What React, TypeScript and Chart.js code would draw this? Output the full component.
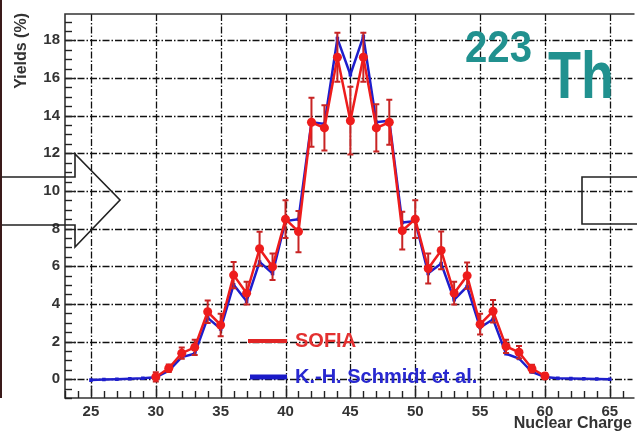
import React, { useEffect, useRef } from 'react';
import { Chart, registerables } from 'chart.js';

Chart.register(...registerables);

// ---- data ----
const sofiaZ = [30, 31, 32, 33, 34, 35, 36, 37, 38, 39, 40, 41, 42, 43, 44, 45, 46, 47, 48, 49, 50, 51, 52, 53, 54, 55, 56, 57, 58, 59, 60];
const sofiaYield = [0.12, 0.58, 1.38, 1.69, 3.58, 2.88, 5.53, 4.57, 6.93, 5.97, 8.5, 7.84, 13.65, 13.35, 17.1, 13.73, 17.1, 13.35, 13.65, 7.89, 8.5, 5.88, 6.84, 4.57, 5.5, 2.92, 3.61, 1.74, 1.43, 0.56, 0.17];
const sofiaErr = [0.25, 0.2, 0.3, 0.4, 0.6, 0.6, 0.7, 0.6, 0.9, 0.7, 1.0, 1.1, 1.3, 1.2, 1.3, 1.8, 1.3, 1.25, 1.2, 1.0, 1.0, 0.8, 1.0, 0.6, 0.7, 0.55, 0.6, 0.35, 0.33, 0.2, 0.15];

const schmidtZ = [25, 26, 27, 28, 29, 30, 31, 32, 33, 34, 35, 36, 37, 38, 39, 40, 41, 42, 43, 44, 45, 46, 47, 48, 49, 50, 51, 52, 53, 54, 55, 56, 57, 58, 59, 60, 61, 62, 63, 64, 65];
const schmidtYield = [-0.05, -0.02, 0.0, 0.02, 0.05, 0.1, 0.45, 1.17, 1.35, 3.26, 2.67, 5.02, 4.14, 6.23, 5.62, 8.4, 8.5, 13.65, 13.56, 18.1, 16.18, 18.2, 13.65, 13.73, 8.32, 8.4, 5.62, 6.14, 4.22, 4.92, 2.74, 3.18, 1.35, 1.1, 0.38, 0.12, 0.05, 0.03, 0.02, 0.01, 0.0];

const xTickValues = [25, 30, 35, 40, 45, 50, 55, 60, 65];
const yTickValues = [0, 2, 4, 6, 8, 10, 12, 14, 16, 18];

const seriesLabels = ['SOFIA', 'K.-H. Schmidt et al.'];
const xTitle = 'Nuclear Charge';
const yTitle = 'Yields (%)';

// ---- styles ----
const RED = '#ee1c1c';
const RED_ERR = '#c82424';
const BLUE = '#1e1ecc';
const TEAL = '#21918f';
const FONT = '"Liberation Sans", Arial, sans-serif';

const decorPlugin = {
  id: 'decor',
  beforeDraw(chart: any) {
    const ctx = chart.ctx;
    ctx.save();
    ctx.fillStyle = '#ffffff';
    ctx.fillRect(0, 0, chart.width, chart.height);
    ctx.restore();
  },
  beforeDatasetsDraw(chart: any) {
    const ctx = chart.ctx;
    const { left, right, top, bottom } = chart.chartArea;
    const xs = chart.scales.x;
    const ys = chart.scales.y;
    ctx.save();
    // dash-dot grid at major ticks
    ctx.strokeStyle = '#111';
    ctx.lineWidth = 1.3;
    ctx.setLineDash([7, 2, 1.5, 2]);
    xTickValues.forEach((v) => {
      const px = Math.round(xs.getPixelForValue(v)) + 0.5;
      ctx.beginPath();
      ctx.moveTo(px, top);
      ctx.lineTo(px, bottom);
      ctx.stroke();
    });
    yTickValues.forEach((v) => {
      const py = Math.round(ys.getPixelForValue(v)) + 0.5;
      ctx.beginPath();
      ctx.moveTo(left, py);
      ctx.lineTo(right, py);
      ctx.stroke();
    });
    ctx.setLineDash([]);
    // frame
    ctx.strokeStyle = '#333';
    ctx.lineWidth = 1.6;
    ctx.beginPath();
    ctx.moveTo(right + 2, top);
    ctx.lineTo(left, top);
    ctx.lineTo(left, bottom);
    ctx.lineTo(right + 2, bottom);
    ctx.stroke();
    // inward tick marks
    ctx.lineWidth = 1.4;
    ctx.strokeStyle = '#222';
    for (let v = Math.ceil(xs.min); v <= xs.max; v += 1) {
      const px = Math.round(xs.getPixelForValue(v)) + 0.5;
      const len = v % 5 === 0 ? 12 : 7;
      ctx.beginPath();
      ctx.moveTo(px, bottom);
      ctx.lineTo(px, bottom - len);
      ctx.stroke();
    }
    for (let v = Math.ceil(ys.min * 2) / 2; v <= ys.max; v += 0.5) {
      const py = Math.round(ys.getPixelForValue(v)) + 0.5;
      const len = Math.abs(v % 2) < 1e-6 ? 11 : 7;
      ctx.beginPath();
      ctx.moveTo(left, py);
      ctx.lineTo(left + len, py);
      ctx.stroke();
    }
    ctx.restore();
  },
  beforeDatasetDraw(chart: any, args: any) {
    if (args.index !== 0) return;
    const ctx = chart.ctx;
    const xs = chart.scales.x;
    const ys = chart.scales.y;
    ctx.save();
    ctx.strokeStyle = RED_ERR;
    ctx.lineWidth = 2;
    sofiaZ.forEach((z, i) => {
      const px = xs.getPixelForValue(z);
      const y1 = ys.getPixelForValue(sofiaYield[i] + sofiaErr[i]);
      const y2 = ys.getPixelForValue(sofiaYield[i] - sofiaErr[i]);
      ctx.beginPath();
      ctx.moveTo(px, y1);
      ctx.lineTo(px, y2);
      ctx.moveTo(px - 3, y1);
      ctx.lineTo(px + 3, y1);
      ctx.moveTo(px - 3, y2);
      ctx.lineTo(px + 3, y2);
      ctx.stroke();
    });
    ctx.restore();
  },
  afterDraw(chart: any) {
    const ctx = chart.ctx;
    ctx.save();
    // legend
    ctx.lineCap = 'butt';
    ctx.strokeStyle = '#e02424';
    ctx.lineWidth = 4;
    ctx.beginPath();
    ctx.moveTo(248, 341);
    ctx.lineTo(287, 341);
    ctx.stroke();
    ctx.strokeStyle = '#1a1ac8';
    ctx.lineWidth = 5;
    ctx.beginPath();
    ctx.moveTo(250, 377);
    ctx.lineTo(287, 377);
    ctx.stroke();
    ctx.font = `bold 20px ${FONT}`;
    ctx.textAlign = 'left';
    ctx.textBaseline = 'middle';
    ctx.fillStyle = '#e33030';
    ctx.fillText(seriesLabels[0], 295, 341);
    ctx.fillStyle = '#2828d0';
    ctx.fillText(seriesLabels[1], 295, 377);

    // axis titles
    ctx.fillStyle = '#333';
    ctx.font = `bold 16px ${FONT}`;
    ctx.textAlign = 'right';
    ctx.textBaseline = 'alphabetic';
    ctx.fillText(xTitle, 632, 428);
    ctx.save();
    ctx.translate(26, 13);
    ctx.rotate(-Math.PI / 2);
    ctx.textAlign = 'right';
    ctx.textBaseline = 'alphabetic';
    ctx.fillText(yTitle, 0, 0);
    ctx.restore();

    // slide decorations: arrow outline, box, isotope label, edge bar
    ctx.strokeStyle = '#222';
    ctx.lineWidth = 1.6;
    ctx.beginPath();
    ctx.moveTo(0, 177);
    ctx.lineTo(75, 177);
    ctx.lineTo(75, 154);
    ctx.lineTo(120, 200);
    ctx.lineTo(75, 247);
    ctx.lineTo(75, 225);
    ctx.lineTo(0, 225);
    ctx.stroke();
    ctx.beginPath();
    ctx.moveTo(640, 177);
    ctx.lineTo(582, 177);
    ctx.lineTo(582, 224);
    ctx.lineTo(640, 224);
    ctx.stroke();
    ctx.fillStyle = '#3a1a1a';
    ctx.fillRect(0, 0, 2, 398);

    ctx.fillStyle = TEAL;
    ctx.textAlign = 'left';
    ctx.textBaseline = 'alphabetic';
    ctx.font = `bold 44px ${FONT}`;
    let w = ctx.measureText('223').width;
    ctx.save();
    ctx.translate(465, 62);
    ctx.scale(67 / w, 1);
    ctx.fillText('223', 0, 0);
    ctx.restore();
    ctx.font = `bold 66px ${FONT}`;
    w = ctx.measureText('Th').width;
    ctx.save();
    ctx.translate(548, 98);
    ctx.scale(66 / w, 1);
    ctx.fillText('Th', 0, 0);
    ctx.restore();

    ctx.restore();
  },
};

export default function App() {
  const canvasRef = useRef<HTMLCanvasElement | null>(null);

  useEffect(() => {
    document.body.style.margin = '0';
    const canvas = canvasRef.current;
    if (!canvas) return;
    const chart = new Chart(canvas, {
      type: 'line',
      data: {
        datasets: [
          {
            label: seriesLabels[0],
            data: sofiaZ.map((z, i) => ({ x: z, y: sofiaYield[i] })),
            borderColor: RED,
            backgroundColor: RED,
            borderWidth: 2.5,
            pointStyle: 'circle',
            pointRadius: 4.5,
            pointBorderWidth: 0,
            tension: 0,
          },
          {
            label: seriesLabels[1],
            data: schmidtZ.map((z, i) => ({ x: z, y: schmidtYield[i] })),
            borderColor: BLUE,
            backgroundColor: BLUE,
            borderWidth: 2.5,
            pointStyle: 'rect',
            pointRadius: 2.5,
            pointBorderWidth: 0,
            tension: 0,
          },
        ],
      },
      options: {
        responsive: false,
        animation: false,
        devicePixelRatio: 1,
        layout: { padding: { top: 9, left: 0, right: 0, bottom: 0 } },
        plugins: {
          legend: { display: false },
          tooltip: { enabled: false },
        },
        scales: {
          x: {
            type: 'linear',
            min: 23,
            max: 66.75,
            afterBuildTicks: (s: any) => {
              s.ticks = xTickValues.map((v) => ({ value: v }));
            },
            afterFit: (s: any) => {
              s.height = 36;
            },
            grid: { display: false, drawTicks: false },
            border: { display: false },
            ticks: {
              autoSkip: false,
              maxRotation: 0,
              padding: 5,
              color: '#333',
              font: { family: FONT, size: 15, weight: 'bold' },
            },
          },
          y: {
            type: 'linear',
            min: -1,
            max: 19.4,
            afterBuildTicks: (s: any) => {
              s.ticks = yTickValues.map((v) => ({ value: v }));
            },
            afterFit: (s: any) => {
              s.width = 65;
            },
            grid: { display: false, drawTicks: false },
            border: { display: false },
            ticks: {
              autoSkip: false,
              padding: 5,
              color: '#333',
              font: { family: FONT, size: 15, weight: 'bold' },
            },
          },
        },
      },
      plugins: [decorPlugin],
    } as any);
    return () => chart.destroy();
  }, []);

  return <canvas ref={canvasRef} width={637} height={434} style={{ display: 'block' }} />;
}
